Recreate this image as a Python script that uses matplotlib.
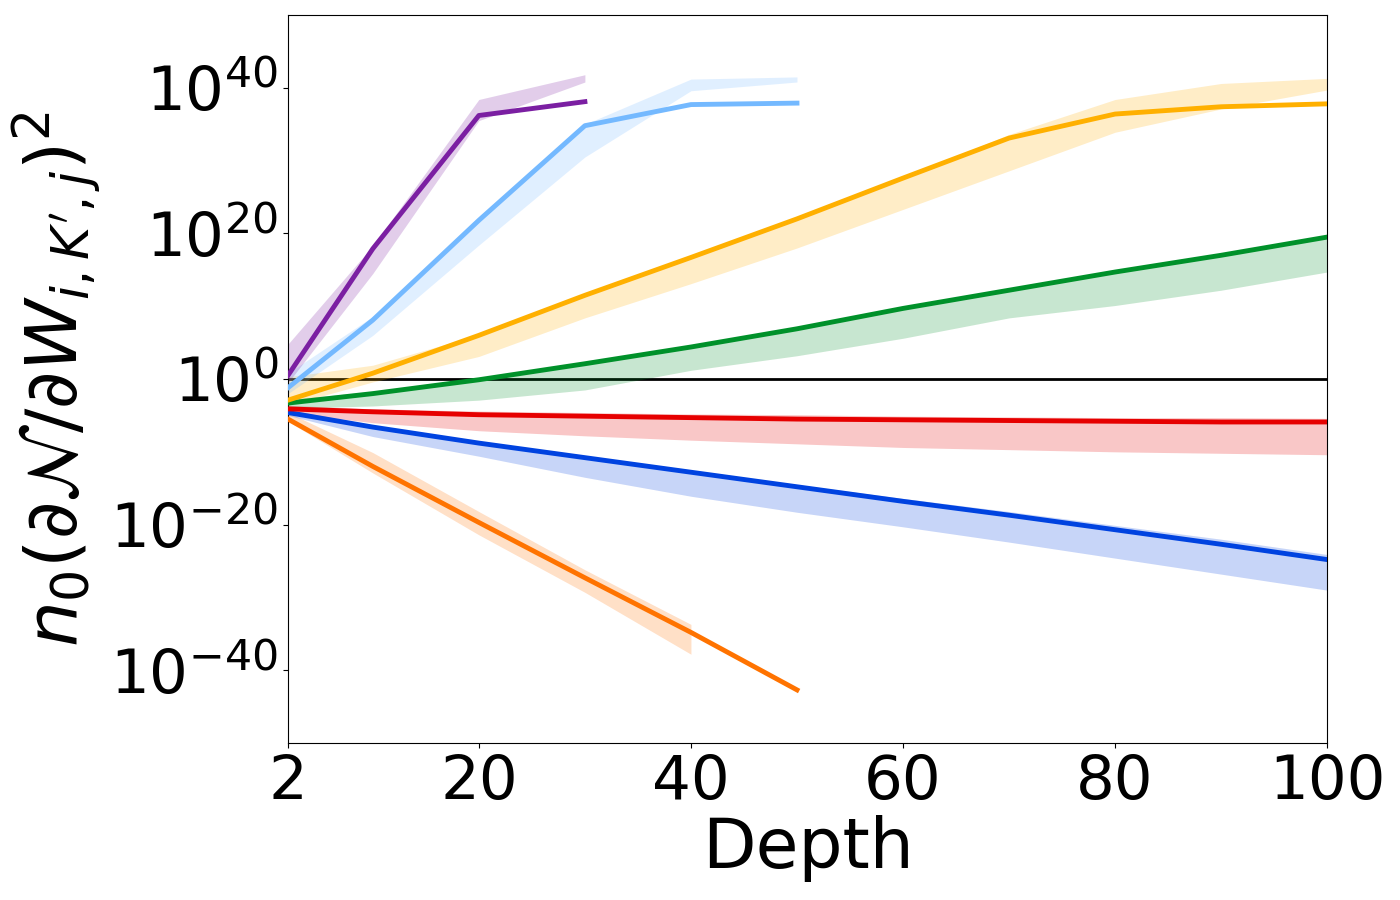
import numpy as np
import matplotlib
matplotlib.use("Agg")
import matplotlib.pyplot as plt
from matplotlib.ticker import NullLocator

# depths at which the gradients were measured
depth = [2, 10, 20, 30, 40, 50, 60, 70, 80, 90, 100]

# values are log10 of the quantity; line = mean, lo/hi = shaded band
purple_line = [0.5, 17.9, 36.2, 38.1]
purple_lo = [-0.5, 14.5, 35.5, 40.8]
purple_hi = [4.8, 18.3, 38.4, 41.8]

lblue_line = [-1.2, 8.1, 21.8, 34.8, 37.7, 37.9]
lblue_lo = [-2.0, 6.0, 18.4, 30.5, 39.6, 40.8]
lblue_hi = [0.8, 8.6, 22.0, 35.0, 41.2, 41.5]

yellow_line = [-2.9, 0.8, 6.0, 11.5, 16.7, 22.0, 27.6, 33.1, 36.4, 37.4, 37.8]
yellow_lo = [-3.6, -0.4, 3.1, 8.4, 13.1, 18.0, 23.3, 28.6, 33.9, 37.1, 39.7]
yellow_hi = [0.3, 1.9, 6.1, 11.6, 16.8, 22.1, 27.7, 33.6, 38.4, 40.6, 41.3]

green_line = [-3.3, -2.0, -0.1, 2.1, 4.4, 6.9, 9.7, 12.2, 14.7, 17.0, 19.5]
green_lo = [-4.0, -3.7, -2.9, -1.5, 1.2, 3.2, 5.6, 8.4, 10.1, 12.2, 14.7]
green_hi = [-2.8, -1.7, 0.2, 2.3, 4.6, 7.1, 9.9, 12.4, 14.9, 17.2, 19.7]

red_line = [-4.1, -4.5, -4.9, -5.1, -5.3, -5.5, -5.6, -5.7, -5.8, -5.9, -5.9]
red_lo = [-4.6, -6.0, -7.1, -7.8, -8.4, -8.9, -9.4, -9.7, -10.0, -10.2, -10.4]
red_hi = [-3.6, -4.1, -4.4, -4.6, -4.8, -4.9, -5.1, -5.2, -5.3, -5.3, -5.4]

blue_line = [-4.6, -6.6, -8.8, -10.8, -12.8, -14.8, -16.8, -18.7, -20.7, -22.7, -24.8]
blue_lo = [-5.0, -7.9, -10.6, -13.5, -16.1, -18.3, -20.3, -22.4, -24.6, -26.8, -29.0]
blue_hi = [-4.2, -6.3, -8.5, -10.5, -12.5, -14.5, -16.4, -18.2, -20.1, -22.0, -24.1]

orange_line = [-5.5, -12.0, -19.7, -27.3, -34.8, -42.7]
orange_lo = [-5.8, -12.9, -21.4, -29.3, -37.8]
orange_hi = [-4.6, -10.1, -18.2, -26.2, -33.7]

series = [
    ('#ff7300', orange_line, orange_lo, orange_hi),
    ('#0043e0', blue_line, blue_lo, blue_hi),
    ('#e60000', red_line, red_lo, red_hi),
    ('#00912a', green_line, green_lo, green_hi),
    ('#ffb000', yellow_line, yellow_lo, yellow_hi),
    ('#74b9ff', lblue_line, lblue_lo, lblue_hi),
    ('#7b1fa2', purple_line, purple_lo, purple_hi),
]

fig = plt.figure(figsize=(14, 9), dpi=100)
ax = fig.add_axes([0.2057, 0.1744, 0.7423, 0.8089])

ax.axhline(1.0, color='black', lw=2, zorder=1)

for color, line, lo, hi in series:
    xb = depth[:len(lo)]
    ax.fill_between(xb, 10.0 ** np.array(lo), 10.0 ** np.array(hi),
                    color=color, alpha=0.22, lw=0, zorder=2)
for color, line, lo, hi in series:
    xl = depth[:len(line)]
    ax.plot(xl, 10.0 ** np.array(line), color=color, lw=3.5, zorder=3)

ax.set_yscale('log')
ax.set_xlim(2, 100)
ax.set_ylim(1e-50, 1e50)
ax.set_xticks([2, 20, 40, 60, 80, 100])
ax.set_yticks([1e-40, 1e-20, 1e0, 1e20, 1e40])
ax.yaxis.set_minor_locator(NullLocator())
ax.tick_params(labelsize=44)

ax.set_xlabel('Depth', fontsize=50, labelpad=2)
ax.set_ylabel(r"$n_0(\partial\mathcal{N}/\partial W_{i,K',j})^2$", fontsize=52)

fig.savefig('out.png', dpi=100)
